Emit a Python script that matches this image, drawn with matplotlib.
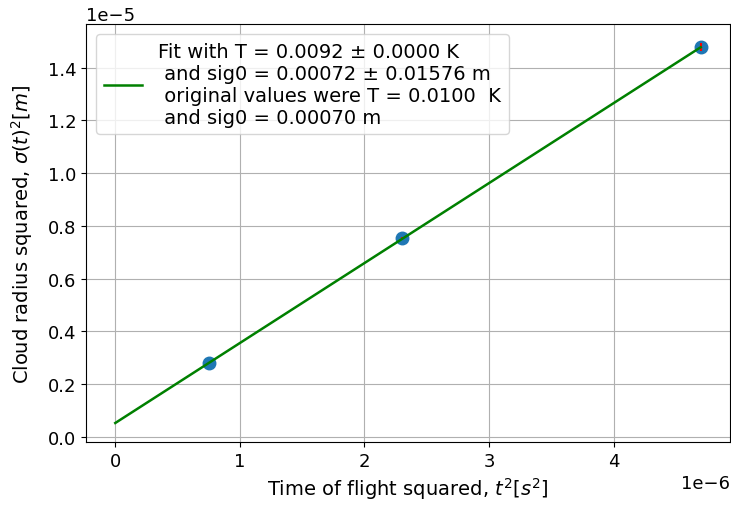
import matplotlib
matplotlib.use("Agg")
import numpy as np
import matplotlib.pyplot as plt

# measured points: time of flight squared vs cloud radius squared
t2 = np.array([0.75e-6, 2.3e-6, 4.7e-6])
sigma2 = np.array([0.28e-5, 0.753e-5, 1.479e-5])
sigma2_err = np.array([0.002e-5, 0.005e-5, 0.015e-5])

# fitted straight line (end points)
fit_t2 = np.array([0.0, 4.7e-6])
fit_sigma2 = np.array([0.052e-5, 1.478e-5])

fit_label = ("Fit with T = 0.0092 \u00b1 0.0000 K\n"
             " and sig0 = 0.00072 \u00b1 0.01576 m\n"
             " original values were T = 0.0100  K\n"
             " and sig0 = 0.00070 m")

plt.rcParams["font.size"] = 14
plt.rcParams["xtick.labelsize"] = 13
plt.rcParams["ytick.labelsize"] = 13

fig = plt.figure(figsize=(7.31, 5.10), dpi=100)
ax = fig.add_axes([86 / 731, 1 - 443 / 510, 644 / 731, 418 / 510])

ax.plot(t2, sigma2, "o", color="tab:blue", markersize=9)
ax.errorbar(t2, sigma2, yerr=sigma2_err, fmt="none", ecolor="r")
ax.plot(fit_t2, fit_sigma2, "g-", linewidth=1.8, label=fit_label)

ax.set_xlabel("Time of flight squared, $t^2[s^2]$")
ax.set_ylabel("Cloud radius squared, $\\sigma(t)^2[m]$", labelpad=9)
ax.grid(True)
ax.legend(loc="upper left")

fig.savefig("out.png", dpi=100)
